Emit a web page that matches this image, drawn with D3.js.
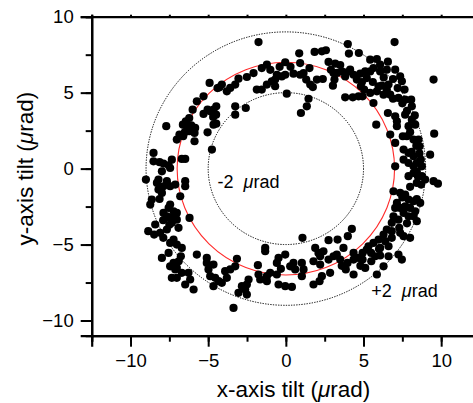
<!DOCTYPE html>
<html>
<head>
<meta charset="utf-8">
<script src="https://cdn.jsdelivr.net/npm/d3@7"></script>
<style>
  body { margin: 0; background: #fff; }
  svg { font-family: "Liberation Sans", Arial, sans-serif; }
  text { white-space: pre; }
</style>
</head>
<body>
<div id="chart"></div>
<script>
// tilt readings (x, y in urad)
const xTilt = [
  -1.76, 3.99, 7.0, 0.86, 1.85, 2.32, 2.58, 4.06, 4.7, 5.43, 5.86, 6.57, 6.07, -0.04, 0.92, 2.75, 3.18, 3.5,
  -1.22, -1.55, -2.08, -2.51, -3.05, -3.26, -3.58, -3.8, -4.12, -4.27, -4.4, -4.91, -5.3, -5.73, -6.0, -6.22,
  -6.44, -6.63, -6.37, -6.09, -5.84, -5.88, -6.22, -6.61, -6.85, -7.02, -5.88, -7.7, -5.04, -4.87, -4.66, -4.48,
  -4.49, -4.66, -4.48, -5.04, -4.68, -3.26, -3.26, -2.58, -1.87, -1.55, -1.22, -0.69, -0.69, -0.58, -0.26, -0.04,
  -0.9, 0.06, 0.49, 0.92, 1.14, 1.31, 1.57, 1.74, 1.52, 1.46, 1.35, 0.97, 2.0, 2.38, 3.03, 3.13, 3.07, 3.6,
  3.82, 3.93, 4.14, 4.36, 4.57, 4.79, 5.11, 5.21, 5.43, 5.64, 6.07, 6.5, 7.04, 7.36, 7.47, 7.64, 6.61, 6.18,
  5.97, 5.86, 6.29, 6.72, 6.5, 5.43, 4.94, 4.68, 4.31, 3.82, 4.83, 5.04, 5.64, 5.82, 7.25, 7.68, 8.07, 8.11,
  6.57, 7.04, 7.15, 7.15, 6.72, 7.04, 7.68, 7.9, 8.11, 8.33, 7.53, 7.79, 8.22, 8.54, 8.61, 7.58, 7.9, 8.22,
  9.29, 9.51, 9.55, 7.58, 7.9, 8.22, 8.43, 8.69, 8.76, 8.43, 8.22, 8.5, 8.76, 8.43, 8.71, 8.97, 9.51, 9.79,
  7.04, 6.93, 7.36, 7.68, 7.9, 8.22, 8.43, 8.65, 7.15, 7.04, 7.36, 7.68, 8.0, 8.33, 7.58, 7.9, 8.22, 8.43,
  6.93, 7.25, 6.82, 6.5, 6.82, 6.29, 5.97, 5.64, 6.4, 6.82, 7.36, 7.58, 8.0, 6.61, 6.07, 5.32, 5.21, 4.94,
  5.49, 5.75, 6.07, 6.61, 7.25, 7.47, 6.29, 5.86, 5.11, 4.94, 4.68, 4.36, 4.36, 3.97, 3.86, 4.36, 4.25, 3.99,
  3.71, 3.28, 3.5, 3.07, 3.33, 2.75, 2.42, 2.21, 1.89, 2.1, 2.75, 2.85, 2.32, 2.17, 1.78, 2.21, 1.78, 1.07,
  1.03, 1.14, 1.03, 0.49, 0.28, 0.6, -0.04, -0.47, -0.58, -0.32, -0.58, -0.47, -0.04, 0.39, -1.01, -1.22,
  -1.33, -1.33, -1.8, -1.76, -1.65, -1.22, -2.4, -2.51, -2.62, -2.51, -2.83, -3.05, -3.37, -3.15, -3.26, -3.58,
  -3.91, -3.8, -4.12, -4.33, -4.66, -4.55, -4.87, -4.98, -5.09, -5.09, -4.66, -5.73, -6.27, -6.16, -5.94, -6.48,
  -6.7, -7.02, -7.23, -7.12, -7.02, -7.34, -7.45, -7.98, -7.55, -6.76, -6.7, -7.02, -7.23, -7.45, -7.89, -8.09,
  -8.48, -8.86, -8.41, -7.66, -6.91, -7.34, -7.45, -7.02, -7.23, -7.66, -7.88, -7.55, -7.23, -7.02, -7.45, -6.2,
  -8.73, -8.63, -8.13, -8.2, -7.98, -7.88, -7.66, -7.45, -7.12, -6.8, -6.48, -6.48, -7.98, -8.3, -8.2, -9.01,
  -8.52, -8.52, -8.13, -7.88, -7.55, -7.34, -7.45, -6.7, -6.48, -4.76,
  6.9, 6.3, 5.6, 4.9, 7.2, 6.9, 7.5, 7.8, 8.3, 8.0, 8.4, 8.1, 8.6, 7.9, 8.0, 7.5,
  7.8, 7.3, 6.0, 5.5, 4.8, 3.6, -7.5, -7.9, -6.5, -5.3, -1.0, -0.4, 0.3, 2.9, 3.3, -6.9
]
const yTilt = [
  8.33, 8.2, 8.33, 7.59, 7.68, 7.72, 7.79, 7.57, 7.61, 7.17, 7.21, 7.04, 6.84, 7.0, 6.95, 7.02, 6.91, 6.82,
  6.84, 6.62, 6.29, 6.03, 5.92, 5.53, 5.31, 5.09, 5.53, 5.35, 5.3, 5.64, 4.76, 4.43, 3.88, 3.33,
  3.11, 2.89, 2.79, 2.85, 2.68, 2.35, 2.46, 2.13, 2.24, 1.91, 1.8, 2.79, 3.88, 3.77, 3.88, 4.1,
  3.55, 2.89, 2.96, 2.39, 3.4, 4.1, 3.55, 3.99, 5.2, 5.2, 5.53, 5.42, 5.86, 6.18, 6.07, 6.18,
  5.75, 4.93, 6.25, 6.18, 6.29, 5.86, 5.53, 5.37, 6.62, 4.6, 4.1, 3.66, 5.86, 5.9, 5.46, 5.86, 6.29, 6.4,
  6.07, 6.34, 6.51, 6.18, 5.86, 6.25, 6.4, 5.96, 6.4, 6.62, 6.4, 6.51, 6.51, 6.07, 5.75, 5.2, 5.53, 5.46,
  5.42, 5.09, 4.87, 4.87, 5.2, 4.98, 4.76, 4.76, 4.69, 4.69, 5.42, 5.2, 4.32, 2.89, 4.65, 4.54, 4.54, 4.1,
  3.66, 3.44, 3.11, 2.79, 2.24, 1.69, 3.55, 2.79, 3.22, 2.89, 2.13, 2.13, 1.91, 1.91, 1.47, 1.25, 1.03, 0.81,
  0.92, 5.86, 2.3, 0.59, 0.37, 0.15, 0.37, 0.59, 0.15, -0.18, -0.29, -0.5, -0.5, -0.94, -1.05, -0.72, -0.83, -0.99,
  0.15, -1.49, -1.6, -1.71, -2.04, -2.15, -2.0, -2.26, -2.26, -2.59, -2.59, -2.48, -2.59, -2.81, -2.92, -3.14, -3.14, -3.46,
  -3.14, -3.36, -3.57, -4.01, -4.12, -4.34, -4.67, -4.89, -4.78, -4.56, -4.23, -4.45, -4.56, -5.11, -5.22, -5.11, -5.33, -5.55,
  -5.55, -5.77, -5.72, -5.77, -5.66, -5.99, -6.43, -6.97, -6.54, -5.99, -5.88, -5.55, -5.99, -6.21, -6.64, -6.97, -3.97, -4.45,
  -5.22, -5.66, -5.99, -5.77, -4.67, -4.71, -5.44, -5.77, -5.22, -5.55, -5.99, -6.86, -7.08, -7.41, -7.63, -6.32, -6.1, -4.56,
  -6.21, -6.64, -7.08, -6.21, -6.43, -6.64, -5.66, -5.88, -6.21, -6.6, -6.97, -7.63, -7.74, -7.79, -6.86, -7.08,
  -5.22, -5.44, -6.36, -6.97, -7.3, -7.41, -7.3, -7.63, -7.96, -8.29, -7.74, -8.18, -9.17, -5.94, -6.43, -6.64,
  -6.75, -7.19, -7.52, -7.41, -7.74, -7.19, -7.08, -6.64, -6.21, -5.88, -6.32, -5.66, -6.86, -7.3, -7.96, -7.63,
  -6.86, -6.54, -6.21, -6.64, -7.19, -7.19, -6.43, -5.88, -5.55, -5.77, -5.22, -5.0, -4.67, -4.89, -4.56, -4.23,
  -4.34, -4.12, -3.68, -4.01, -3.9, -3.57, -3.25, -3.36, -3.14, -3.14, -2.92, -2.59, -2.81, -2.92, -2.37, -3.25,
  -2.37, -2.04, -2.0, -1.38, -1.6, -1.16, -0.83, -1.16, -1.05, -1.82, -0.83, -1.16, -0.18, -0.94, -0.72, -0.72,
  0.48, 1.03, 0.42, 0.33, 0.22, 0.59, 0.04, 0.64, 0.64, 1.25,
  5.9, 6.0, 5.7, 5.7, 5.3, 4.6, 4.3, 3.8, 3.5, 2.4, 1.5, 1.1, 1.0, -0.5, -1.2, -1.9,
  -3.6, -3.9, -5.3, -6.1, -6.4, -6.4, -3.7, -3.4, 2.4, 3.6, 6.5, 6.7, 6.7, 6.5, 6.3, -6.1
]
// reference rings: radius in urad and line style
const ringRadii = [5, 7, 9]
const ringColors = ["#000", "#ff2a2a", "#000"]
const ringDashes = ["1.3,1.3", null, "1.3,1.3"]
const ringLabels = ["-2  ", "+2  "]
const ringLabelPos = [[-4.4, -1.28], [5.5, -8.43]]

const majorTicks = [-10, -5, 0, 5, 10]
const minorTicks = d3.range(-12.5, 12.6, 2.5)

const width = 473, height = 403
const svg = d3.select("#chart").append("svg")
    .attr("width", width).attr("height", height)

const x = d3.scaleLinear().domain([-12.5, 12.5]).range([91.7, 480])
const y = d3.scaleLinear().domain([-11, 10]).range([335.7, 16.7])

const points = xTilt.map((v, i) => ({ x: v, y: yTilt[i] }))

// rings
svg.selectAll("ellipse.ring")
    .data(ringRadii)
    .join("ellipse")
    .attr("class", "ring")
    .attr("cx", x(0)).attr("cy", y(0))
    .attr("rx", (r) => x(r) - x(0))
    .attr("ry", (r) => y(0) - y(r))
    .attr("fill", "none")
    .attr("stroke", (r, i) => ringColors[i])
    .attr("stroke-width", (r, i) => i == 1 ? 1.1 : 1)
    .attr("stroke-dasharray", (r, i) => ringDashes[i])

// dots
svg.selectAll("circle.pt")
    .data(points)
    .join("circle")
    .attr("class", "pt")
    .attr("cx", (d) => x(d.x))
    .attr("cy", (d) => y(d.y))
    .attr("r", 4.1)
    .attr("fill", "#000")

// ring labels
svg.selectAll("text.ringlab")
    .data(ringLabels)
    .join("text")
    .attr("class", "ringlab")
    .attr("x", (d, i) => x(ringLabelPos[i][0]))
    .attr("y", (d, i) => y(ringLabelPos[i][1]))
    .attr("font-size", 18)
    .each(function (d) {
        const t = d3.select(this)
        t.append("tspan").text(d)
        t.append("tspan").attr("font-style", "italic").text("\u03bc")
        t.append("tspan").text("rad")
    })

// axes
const bottomAxis = svg.append("g").attr("transform", `translate(0,${y(-11)})`)
bottomAxis.call(d3.axisBottom(x).tickValues(minorTicks).tickSize(6).tickFormat(""))
bottomAxis.append("g").call(d3.axisBottom(x).tickValues(majorTicks).tickSize(11).tickPadding(7))

const leftAxis = svg.append("g").attr("transform", `translate(${x(-12.5)},0)`)
leftAxis.call(d3.axisLeft(y).tickValues(d3.range(-10, 10.1, 2.5)).tickSize(6).tickFormat(""))
leftAxis.append("g").call(d3.axisLeft(y).tickValues(majorTicks).tickSize(11).tickPadding(7))

const topAxis = svg.append("g").attr("transform", `translate(0,${y(10)})`)
topAxis.call(d3.axisTop(x).tickValues(minorTicks).tickSize(2).tickFormat(""))

svg.selectAll(".domain").attr("stroke-width", 2.2)
svg.selectAll(".tick line").attr("stroke-width", 2)
svg.selectAll(".tick text")
    .attr("font-size", 18.5)
    .attr("font-family", "Liberation Sans, Arial, sans-serif")
    .attr("fill", "#000")
svg.selectAll(".domain, .tick line").attr("stroke", "#000")

// axis titles
const xTitle = svg.append("text")
    .attr("x", 293.5).attr("y", 397)
    .attr("text-anchor", "middle")
    .attr("font-size", 22.5)
xTitle.append("tspan").text("x-axis tilt (")
xTitle.append("tspan").attr("font-style", "italic").text("\u03bc")
xTitle.append("tspan").text("rad)")

const yTitle = svg.append("text")
    .attr("transform", `translate(33,${y(0)}) rotate(-90)`)
    .attr("text-anchor", "middle")
    .attr("font-size", 22.5)
yTitle.append("tspan").text("y-axis tilt (")
yTitle.append("tspan").attr("font-style", "italic").text("\u03bc")
yTitle.append("tspan").text("rad)")
</script>
</body>
</html>
